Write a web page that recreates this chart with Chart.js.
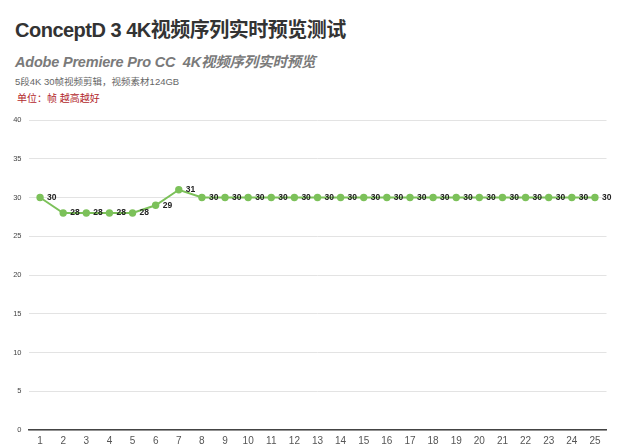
<!DOCTYPE html>
<html>
<head>
<meta charset="utf-8">
<script src="https://cdn.jsdelivr.net/npm/chart.js@4"></script>
<style>
  body { margin:0; background:#fff; width:640px; height:447px; overflow:hidden; position:relative;
         font-family:"Liberation Sans", "Noto Sans CJK SC", sans-serif; }
  .t1 { position:absolute; left:15px; top:14px; font-size:20px; font-weight:bold; color:#333; letter-spacing:-0.5px; }
  .t2 { position:absolute; left:15px; top:50px; font-size:14.5px; font-weight:bold; font-style:italic; color:#7a7a7a; letter-spacing:-0.2px; }
  .t3 { position:absolute; left:15px; top:74px; font-size:9.5px; color:#666; }
  .t4 { position:absolute; left:17px; top:90px; font-size:10px; color:#b3282d; }
  #wrap { position:absolute; left:0; top:105px; width:640px; height:342px; }
</style>
</head>
<body>
<div class="t1">ConceptD 3 4K视频序列实时预览测试</div>
<div class="t2">Adobe Premiere Pro CC&nbsp; 4K视频序列实时预览</div>
<div class="t3">5段4K 30帧视频剪辑，视频素材124GB</div>
<div class="t4">单位：帧 越高越好</div>
<div id="wrap"><canvas id="myChart"></canvas></div>
<script>
const categories = ['1','2','3','4','5','6','7','8','9','10','11','12','13','14','15','16','17','18','19','20','21','22','23','24','25']
const fps = [30,28,28,28,28,29,31,30,30,30,30,30,30,30,30,30,30,30,30,30,30,30,30,30,30]
const yTicks = [0,5,10,15,20,25,30,35,40]

// value labels right of each point
const valueLabels = {
    id:'valueLabels',
    afterDatasetsDraw(chart){
        const ctx = chart.ctx
        const meta = chart.getDatasetMeta(0)
        ctx.save()
        ctx.font = 'bold 8.5px "Liberation Sans", sans-serif'
        ctx.fillStyle = '#222'
        ctx.textAlign = 'left'
        ctx.textBaseline = 'middle'
        meta.data.forEach((pt,i)=>{
            ctx.fillText(fps[i], pt.x + 7, pt.y)
        })
        ctx.restore()
    }
}

const data = {
    labels: categories,
    datasets: [{
        data: fps,
        borderColor: '#7cc15a',
        backgroundColor: '#7cc15a',
        borderWidth: 2,
        pointRadius: 2.7,
        pointHoverRadius: 2.7,
        tension: 0
    }]
}

const config = {
    type: 'line',
    data,
    plugins: [valueLabels],
    options: {
        responsive: true,
        maintainAspectRatio: false,
        animation: false,
        layout: { padding: { left: 0, right: 33.5, top: 15, bottom: 0 } },
        plugins: { legend: { display:false }, tooltip: { enabled:false } },
        scales: {
            x: {
                offset: true,
                grid: { display:false, drawTicks:false },
                border: { color:'#444', width:1.5 },
                ticks: { color:'#555', font:{ size:10, family:'"Liberation Sans", sans-serif' }, padding:5, maxRotation:0, autoSkip:false },
                afterFit: (s)=>{ s.height = 17 }
            },
            y: {
                min: 0, max: 40,
                afterBuildTicks: (s)=>{ s.ticks = yTicks.map(v=>({value:v})) },
                grid: { color:'#e3e3e3', lineWidth:1, drawTicks:false },
                border: { display:false },
                ticks: { color:'#444', font:{ size:7.5, family:'"Liberation Sans", sans-serif' }, padding:7 },
                afterFit: (s)=>{ s.width = 28.5 }
            }
        }
    }
}

const myChart = new Chart(document.getElementById('myChart'), config)
</script>
</body>
</html>
